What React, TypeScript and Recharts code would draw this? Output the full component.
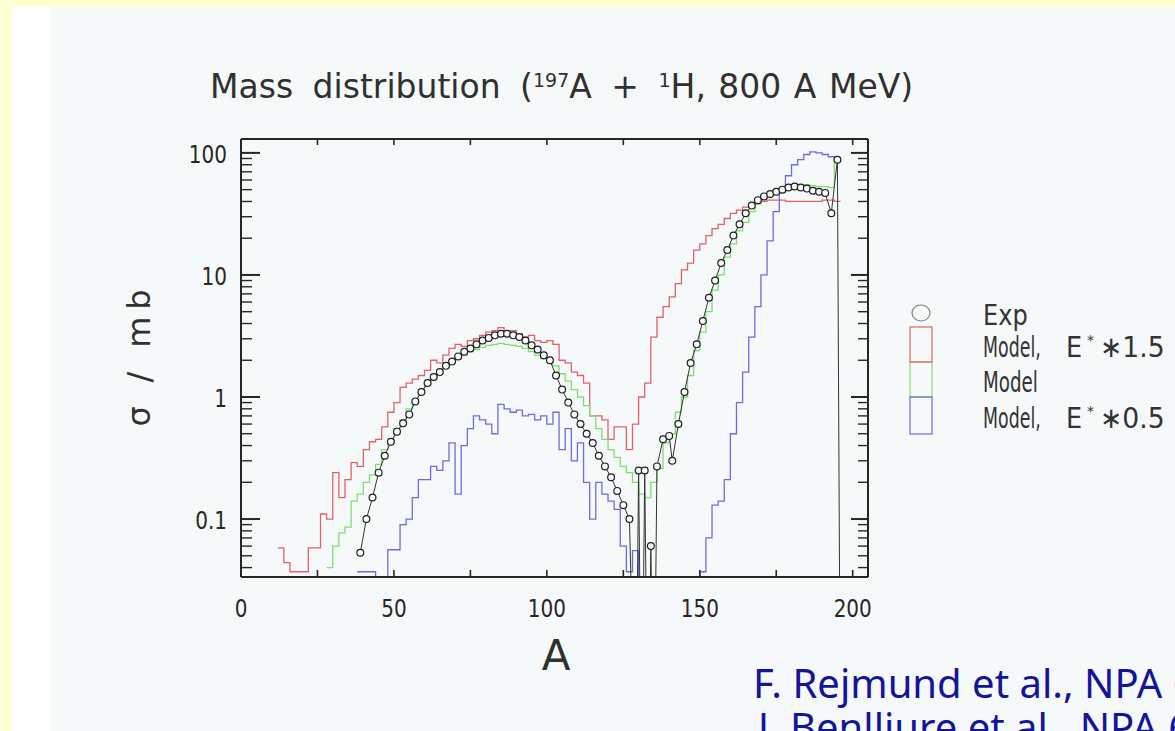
import { Legend, Line, LineChart, XAxis, YAxis } from "recharts";

const Y_MIN = 0.0335;
const Y_MAX = 130;

// model histograms, bins 2 units of A wide, sigma in mb (0.001 = empty bin)
const redStart = 12;
const redValues = [
  0.058, 0.044, 0.037, 0.037, 0.037, 0.058, 0.058, 0.11, 0.1, 0.24, // 12-30
  0.15, 0.21, 0.29, 0.27, 0.37, 0.43, 0.45, 0.57, 0.75, 0.9, // 32-50
  1.2, 1.3, 1.4, 1.5, 1.65, 2.0, 1.9, 2.2, 2.5, 2.7, // 52-70
  2.6, 2.9, 3.0, 3.2, 3.4, 3.5, 3.7, 3.4, 3.5, 3.3, // 72-90
  3.1, 3.2, 2.9, 2.8, 2.9, 2.7, 2.0, 1.9, 1.6, 1.5, // 92-110
  1.3, 0.7, 0.7, 0.65, 0.45, 0.57, 0.57, 0.37, 0.6, 1.0, // 112-130
  1.3, 3.1, 4.5, 5.5, 6.6, 8.5, 11, 12.5, 16, 18, // 132-150
  21, 24, 26, 29, 32, 34, 36, 37.5, 39, 40, // 152-170
  41, 41, 41, 40, 40, 40, 40, 40, 40, 41, // 172-190
  41, 40, // 192-194
];

const greenStart = 28;
const greenValues = [
  0.04, 0.06, 0.077, 0.086, 0.14, 0.16, 0.2, 0.23, 0.28, 0.37, // 28-46
  0.42, 0.55, 0.65, 0.8, 0.95, 1.1, 1.25, 1.4, 1.55, 1.75, // 48-66
  1.9, 2.05, 2.2, 2.35, 2.45, 2.55, 2.65, 2.7, 2.75, 2.7, // 68-86
  2.65, 2.6, 2.5, 2.35, 2.2, 2.05, 2.0, 1.8, 1.55, 1.35, // 88-106
  1.15, 1.0, 0.85, 0.7, 0.55, 0.45, 0.37, 0.32, 0.27, 0.24, // 108-126
  0.2, 0.16, 0.15, 0.2, 0.26, 0.42, 0.5, 0.75, 1.0, 1.5, // 128-146
  2.4, 3.4, 5, 7.5, 10, 14, 18, 23, 27, 33, // 148-166
  38, 42, 46, 49, 52, 54, 55, 55, 55, 54, // 168-186
  53, 53, 52, 84, // 188-194
];

const blueStart = 38;
const blueValues = [
  0.037, 0.037, 0.037, 0.001, 0.001, 0.056, 0.056, 0.09, 0.1, 0.15, // 38-56
  0.21, 0.21, 0.27, 0.25, 0.3, 0.42, 0.16, 0.4, 0.55, 0.7, // 58-76
  0.65, 0.6, 0.5, 0.87, 0.8, 0.75, 0.78, 0.7, 0.72, 0.65, // 78-96
  0.7, 0.6, 0.75, 0.37, 0.55, 0.3, 0.42, 0.2, 0.1, 0.2, // 98-116
  0.16, 0.14, 0.12, 0.06, 0.037, 0.055, 0.001, 0.001, 0.001, 0.001, // 118-136
  0.001, 0.001, 0.001, 0.001, 0.001, 0.001, 0.037, 0.07, 0.13, 0.14, // 138-156
  0.21, 0.5, 0.9, 1.6, 3.1, 5.5, 10, 19, 33, 48, // 158-176
  65, 80, 88, 97, 102, 100, 97, 93, 90, // 178-194
];

// experimental points
const expA = [
  39, 41, 43, 45, 47, 49, 51, 53, 55, 57, 59, 61, 63, 65, 67, 69, 71, 73, 75, 77,
  79, 81, 83, 85, 87, 89, 91, 93, 95, 97, 99, 101, 103, 105, 107, 109, 111, 113, 115, 117,
  119, 121, 123, 125, 127, 129, 130, 131, 132, 133, 134, 135, 136, 138, 140, 141, 143, 145, 147, 149,
  151, 153, 155, 157, 159, 161, 163, 165, 167, 169, 171, 173, 175, 177, 179, 181, 183, 185, 187, 189,
  191, 193, 195, 196,
];
const expValues = [
  0.053, 0.1, 0.15, 0.24, 0.33, 0.43, 0.52, 0.61, 0.72, 0.92, 1.1, 1.3, 1.46, 1.6, 1.8, 1.95, 2.15, 2.35, 2.5, 2.7,
  2.9, 3.05, 3.2, 3.3, 3.3, 3.2, 3.1, 2.9, 2.65, 2.45, 2.2, 2.0, 1.5, 1.15, 0.9, 0.72, 0.6, 0.5, 0.42, 0.33,
  0.27, 0.22, 0.17, 0.13, 0.1, 0.001, 0.25, 0.001, 0.25, 0.001, 0.06, 0.001, 0.27, 0.45, 0.48, 0.3, 0.6, 1.1, 1.9, 2.7,
  4.2, 6.5, 9, 12.5, 16, 21, 26, 32, 37, 41, 44, 46, 48, 50, 52, 53, 52, 51, 49, 48,
  47, 32, 88, 0.001,
];

const xTicks = [0, 25, 50, 75, 100, 125, 150, 175, 200];
const xLabels = [0, 50, 100, 150, 200];
const yTicks = [
  0.04, 0.05, 0.06, 0.07, 0.08, 0.09, 0.1, 0.2, 0.3, 0.4, 0.5, 0.6, 0.7, 0.8, 0.9,
  1, 2, 3, 4, 5, 6, 7, 8, 9, 10, 20, 30, 40, 50, 60, 70, 80, 90, 100,
];
const yLabels = [0.1, 1, 10, 100];

const RED = "#e2606c";
const GREEN = "#82dc72";
const BLUE = "#6c6ce2";
const INK = "#262626";
const FONT = "DejaVu Sans";

function bins(start: number, values: number[]) {
  const rows = values.map((v, i) => ({ a: start + 2 * i, v }));
  rows.push({ a: start + 2 * values.length, v: values[values.length - 1] });
  return rows;
}

const redData = bins(redStart, redValues);
const greenData = bins(greenStart, greenValues);
const blueData = bins(blueStart, blueValues);
const expData = expA.map((a, i) => ({ a, v: expValues[i] }));

const numLabel = (x: number, y: number, text: string, anchor: "end" | "middle") => (
  <text
    transform={`translate(${x},${y}) scale(0.8,1)`}
    textAnchor={anchor}
    fontSize={25}
    fontFamily={FONT}
    fill={INK}
  >
    {text}
  </text>
);

function LeftTick(props: any) {
  const { x, y, payload } = props;
  const major = yLabels.includes(payload.value);
  return (
    <g>
      <line x1={x} x2={x + (major ? 19 : 11)} y1={y} y2={y} stroke={INK} strokeWidth={major ? 2 : 1.4} />
      {major && numLabel(x - 14, y + 10, String(payload.value), "end")}
    </g>
  );
}

function RightTick(props: any) {
  const { x, y, payload } = props;
  const major = yLabels.includes(payload.value);
  return <line x1={x} x2={x - (major ? 17 : 10)} y1={y} y2={y} stroke={INK} strokeWidth={major ? 2 : 1.4} />;
}

function BottomTick(props: any) {
  const { x, y, payload } = props;
  const labelled = xLabels.includes(payload.value);
  return (
    <g>
      <line x1={x} x2={x} y1={y} y2={y - 7} stroke={INK} strokeWidth={1.6} />
      {labelled && numLabel(x, y + 40, String(payload.value), "middle")}
    </g>
  );
}

function TopTick(props: any) {
  const { x, y } = props;
  return <line x1={x} x2={x} y1={y} y2={y + 6} stroke={INK} strokeWidth={1.6} />;
}

function ExpDot(props: any) {
  const { cx, cy, payload } = props;
  if (payload.v < Y_MIN) return <g />;
  return <circle cx={cx} cy={cy} r={3.4} fill="#f8fbfb" stroke="#1e1e1e" strokeWidth={1.2} />;
}

// narrow legend word: horizontal squeeze via transform
function Word({ x, y, sx, size = 29, children }: { x: number; y: number; sx: number; size?: number; children: string }) {
  return (
    <text transform={`translate(${x},${y}) scale(${sx},1)`} fontSize={size} fontFamily={FONT} fill="#333">
      {children}
    </text>
  );
}

function ModelRow({ y, factor }: { y: number; factor: string }) {
  return (
    <g>
      <Word x={983} y={y} sx={0.6}>Model,</Word>
      <Word x={1066} y={y} sx={0.88}>E</Word>
      <Word x={1087} y={y - 12} sx={1} size={14}>*</Word>
      <Word x={1100} y={y} sx={0.92}>{"\u2217" + factor}</Word>
    </g>
  );
}

function LegendBox() {
  return (
    <svg width={1175} height={731} style={{ display: "block" }}>
      <ellipse cx={921} cy={313} rx={9} ry={8} fill="none" stroke="#808080" strokeWidth={1.2} />
      <rect x={910} y={362} width={22} height={35} fill="none" stroke={GREEN} strokeWidth={1.2} />
      <rect x={910} y={327} width={22} height={35} fill="none" stroke={RED} strokeWidth={1.2} />
      <rect x={910} y={397} width={22} height={37} fill="none" stroke={BLUE} strokeWidth={1.2} />
      <Word x={983} y={325} sx={0.83}>Exp</Word>
      <ModelRow y={357} factor="1.5" />
      <Word x={983} y={392} sx={0.63}>Model</Word>
      <ModelRow y={428} factor="0.5" />
    </svg>
  );
}

export default function App() {
  return (
    <div style={{ position: "absolute", left: 0, top: 0, width: 1175, height: 731, overflow: "hidden", background: "#ffffd4" }}>
      <div style={{ position: "absolute", left: 12, top: 7, right: 0, bottom: 0, background: "#ffffff" }} />
      <div style={{ position: "absolute", left: 50, top: 7, right: 0, bottom: 0, background: "#f6f9f9" }} />
      <div style={{ position: "absolute", left: 0, top: 0 }}>
        <LineChart width={1175} height={731} margin={{ top: 129, right: 297, bottom: 114, left: 181 }} style={{ fontFamily: FONT }}>
          <XAxis
            dataKey="a"
            type="number"
            domain={[0, 205]}
            ticks={xTicks}
            interval={0}
            allowDataOverflow
            height={40}
            tickSize={0}
            tickMargin={0}
            tickLine={false}
            axisLine={{ stroke: INK, strokeWidth: 2 }}
            tick={<BottomTick />}
          />
          <XAxis
            xAxisId="top"
            orientation="top"
            dataKey="a"
            type="number"
            domain={[0, 205]}
            ticks={xTicks}
            interval={0}
            allowDataOverflow
            height={10}
            tickSize={0}
            tickMargin={0}
            tickLine={false}
            axisLine={{ stroke: INK, strokeWidth: 2 }}
            tick={<TopTick />}
          />
          <YAxis
            yAxisId="left"
            scale="log"
            type="number"
            domain={[Y_MIN, Y_MAX]}
            ticks={yTicks}
            interval={0}
            allowDataOverflow
            width={60}
            tickSize={0}
            tickMargin={0}
            tickLine={false}
            axisLine={{ stroke: INK, strokeWidth: 2 }}
            tick={<LeftTick />}
          />
          <YAxis
            yAxisId="right"
            orientation="right"
            scale="log"
            type="number"
            domain={[Y_MIN, Y_MAX]}
            ticks={yTicks}
            interval={0}
            allowDataOverflow
            width={10}
            tickSize={0}
            tickMargin={0}
            tickLine={false}
            axisLine={{ stroke: INK, strokeWidth: 2 }}
            tick={<RightTick />}
          />
          <Line yAxisId="left" data={redData} dataKey="v" type="stepAfter" stroke={RED} strokeWidth={1.3} dot={false} isAnimationActive={false} />
          <Line yAxisId="left" data={greenData} dataKey="v" type="stepAfter" stroke={GREEN} strokeWidth={1.3} dot={false} isAnimationActive={false} />
          <Line yAxisId="left" data={blueData} dataKey="v" type="stepAfter" stroke={BLUE} strokeWidth={1.3} dot={false} isAnimationActive={false} />
          <Line yAxisId="left" data={expData} dataKey="v" type="linear" stroke="#333" strokeWidth={1} dot={<ExpDot />} isAnimationActive={false} />
          <Legend
            layout="vertical"
            align="center"
            verticalAlign="middle"
            content={() => <LegendBox />}
            wrapperStyle={{ left: 0, top: 0, width: 1175, height: 731, pointerEvents: "none" }}
          />
        </LineChart>
      </div>
      <svg width={1175} height={731} style={{ position: "absolute", left: 0, top: 0, pointerEvents: "none" }}>
        <text x={210} y={98} fontSize={33} fontFamily={FONT} fill="#303030" wordSpacing={9}>
          Mass distribution (
          <tspan dy={-11} fontSize={19}>197</tspan>
          <tspan dy={11}>A + </tspan>
          <tspan dy={-11} fontSize={19}>1</tspan>
          <tspan dy={11} wordSpacing={2}>H, 800 A MeV)</tspan>
        </text>
        <text
          transform="translate(150,358) rotate(-90)"
          textAnchor="middle"
          fontSize={32}
          fontFamily={FONT}
          fill="#303030"
          textLength={137}
          lengthAdjust="spacing"
        >
          σ / mb
        </text>
        <text x={556} y={670} textAnchor="middle" fontSize={42} fontFamily={FONT} fill="#303030">
          A
        </text>
        <text x={753} y={698} fontSize={40} fontFamily="Noto Sans" fill="#14149a">
          F. Rejmund et al., NPA 683 (2001) 540
        </text>
        <text x={758} y={742} fontSize={40} fontFamily="Noto Sans" fill="#14149a">
          J. Benlliure et al., NPA 683 (2001) 513
        </text>
      </svg>
    </div>
  );
}
